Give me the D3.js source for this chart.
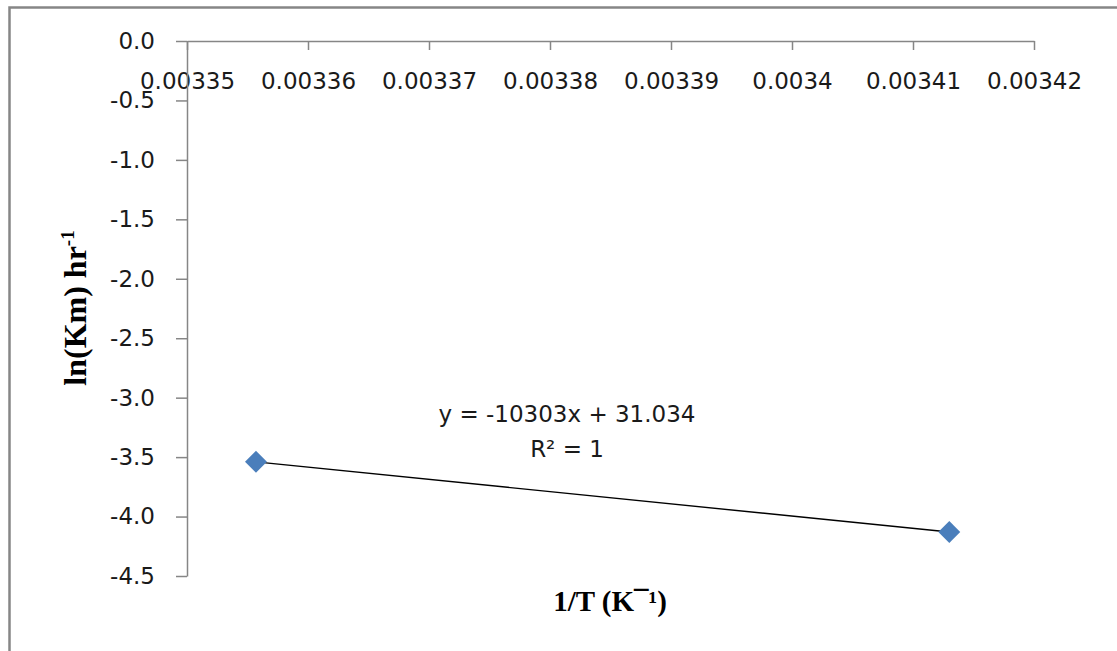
<!DOCTYPE html>
<html>
<head>
<meta charset="utf-8">
<script src="https://cdn.jsdelivr.net/npm/d3@7"></script>
<style>
  html, body { margin: 0; padding: 0; background: #fff; }
  svg { display: block; }
</style>
</head>
<body>
<svg id="chart" width="1117" height="651"></svg>
<script>
// ---- data ----
const invT = [0.0033557, 0.0034130];        // 1/T (K^-1)
const lnKm = [-3.539, -4.130];              // ln(Km) hr^-1
const xTicks = [0.00335, 0.00336, 0.00337, 0.00338, 0.00339, 0.0034, 0.00341, 0.00342];
const xTickLabels = ["0.00335", "0.00336", "0.00337", "0.00338", "0.00339", "0.0034", "0.00341", "0.00342"];
const yTicks = [0, -0.5, -1, -1.5, -2, -2.5, -3, -3.5, -4, -4.5];
const yTickLabels = ["0.0", "-0.5", "-1.0", "-1.5", "-2.0", "-2.5", "-3.0", "-3.5", "-4.0", "-4.5"];
const trendSlope = -10303;
const trendIntercept = 31.034;
const equationText = "y = -10303x + 31.034";
const r2Text = "R\u00B2 = 1";
const xTitle = "1/T (K\u00AF\u00B9)";

// ---- layout ----
const svg = d3.select("#chart");
const axisColor = "#868686";
const x = d3.scaleLinear().domain([0.00335, 0.00342]).range([187, 1034]);
const y = d3.scaleLinear().domain([0, -4.5]).range([41, 576]);

// outer chart border (top & left visible)
svg.append("path")
  .attr("d", "M9.5,651 L9.5,7.5 L1117,7.5")
  .attr("fill", "none")
  .attr("stroke", axisColor)
  .attr("stroke-width", 2.5);

// x axis (top, labels below)
const xAxis = d3.axisBottom(x)
  .tickValues(xTicks)
  .tickFormat((d, i) => xTickLabels[i])
  .tickSizeInner(9)
  .tickSizeOuter(0)
  .tickPadding(23);
const gx = svg.append("g").attr("transform", `translate(0,${y(0)})`).call(xAxis);
gx.selectAll("path, line").attr("stroke", axisColor).attr("stroke-width", 1.5);
gx.selectAll("text")
  .attr("font-family", "DejaVu Sans, sans-serif")
  .attr("font-size", 23)
  .attr("fill", "#1a1a1a");
gx.attr("font-size", null).attr("font-family", null);

// y axis
const yAxis = d3.axisLeft(y)
  .tickValues(yTicks)
  .tickFormat((d, i) => yTickLabels[i])
  .tickSizeInner(11)
  .tickSizeOuter(0)
  .tickPadding(21);
const gy = svg.append("g").attr("transform", `translate(${x(0.00335)},0)`).call(yAxis);
gy.selectAll("path, line").attr("stroke", axisColor).attr("stroke-width", 1.5);
gy.selectAll("text")
  .attr("font-family", "DejaVu Sans, sans-serif")
  .attr("font-size", 23)
  .attr("fill", "#1a1a1a");
gy.attr("font-size", null).attr("font-family", null);

// trendline
const tx0 = d3.min(invT), tx1 = d3.max(invT);
svg.append("line")
  .attr("x1", x(tx0)).attr("y1", y(trendSlope * tx0 + trendIntercept))
  .attr("x2", x(tx1)).attr("y2", y(trendSlope * tx1 + trendIntercept))
  .attr("stroke", "#000")
  .attr("stroke-width", 1.4);

// markers
const pts = invT.map((v, i) => [v, lnKm[i]]);
svg.append("g").selectAll("path")
  .data(pts)
  .join("path")
  .attr("d", d3.symbol(d3.symbolSquare, 240))
  .attr("transform", d => `translate(${x(d[0])},${y(d[1])}) rotate(45)`)
  .attr("fill", "#4A7EBB");

// equation labels
svg.append("text")
  .attr("x", 567).attr("y", 422)
  .attr("text-anchor", "middle")
  .attr("font-family", "DejaVu Sans, sans-serif")
  .attr("font-size", 23)
  .attr("fill", "#1a1a1a")
  .text(equationText);
svg.append("text")
  .attr("x", 567).attr("y", 457)
  .attr("text-anchor", "middle")
  .attr("font-family", "DejaVu Sans, sans-serif")
  .attr("font-size", 23)
  .attr("fill", "#1a1a1a")
  .text(r2Text);

// x title
svg.append("text")
  .attr("x", 610).attr("y", 611)
  .attr("text-anchor", "middle")
  .attr("font-family", "Liberation Serif, Times New Roman, serif")
  .attr("font-weight", "bold")
  .attr("font-size", 29)
  .attr("fill", "#000")
  .text(xTitle);

// y title
const yt = svg.append("text")
  .attr("transform", "translate(86,308) rotate(-90)")
  .attr("text-anchor", "middle")
  .attr("font-family", "Liberation Serif, Times New Roman, serif")
  .attr("font-weight", "bold")
  .attr("font-size", 32)
  .attr("fill", "#000");
yt.append("tspan").text("ln(Km) hr");
yt.append("tspan").attr("font-size", 19).attr("dy", -12).text("-1");
</script>
</body>
</html>
